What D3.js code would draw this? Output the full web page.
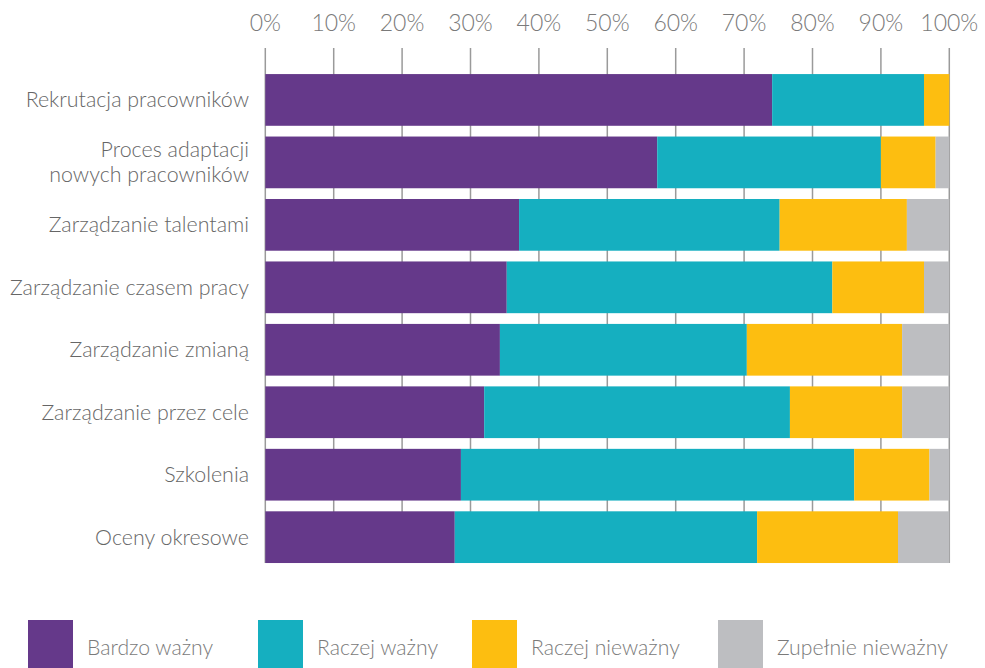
<!DOCTYPE html>
<html>
<head>
<meta charset="utf-8">
<script src="https://cdn.jsdelivr.net/npm/d3@7"></script>
<style>
  body { margin: 0; background: #fff; }
  svg { display: block; font-family: Lato, "Open Sans", sans-serif; }
</style>
</head>
<body>
<svg id="chart" width="985" height="668"></svg>
<script>
// categories (top to bottom)
let categories = [
    'Rekrutacja pracowników',
    'Proces adaptacji\nnowych pracowników',
    'Zarządzanie talentami',
    'Zarządzanie czasem pracy',
    'Zarządzanie zmianą',
    'Zarządzanie przez cele',
    'Szkolenia',
    'Oceny okresowe'
]

// series values, percent
let seriesNames = ['Bardzo ważny', 'Raczej ważny', 'Raczej nieważny', 'Zupełnie nieważny']
let bardzoWazny = [74.1, 57.3, 37.1, 35.3, 34.3, 32.0, 28.6, 27.7]
let raczejWazny = [22.2, 32.7, 38.1, 47.6, 36.1, 44.7, 57.5, 44.2]
let raczejNiewazny = [3.7, 8.0, 18.6, 13.4, 22.7, 16.4, 11.0, 20.6]
let zupelnieNiewazny = [0.0, 2.0, 6.2, 3.7, 6.9, 6.9, 2.9, 7.5]

let tickValues = [0, 10, 20, 30, 40, 50, 60, 70, 80, 90, 100]

let colors = ['#65398a', '#15afc0', '#fdbe10', '#bdbec1']

let svg = d3.select('#chart')

let rows = categories.map((c, i) => ({
    category: c,
    s0: bardzoWazny[i],
    s1: raczejWazny[i],
    s2: raczejNiewazny[i],
    s3: zupelnieNiewazny[i]
}))

let stack = d3.stack().keys(['s0', 's1', 's2', 's3'])(rows)

let xScale = d3.scaleLinear().domain([0, 100]).range([265.3, 949.3])
let yScale = d3.scaleBand()
    .domain(categories)
    .range([68.7, 568.4])
    .paddingInner(0.172)
    .paddingOuter(0.086)

// vertical grid lines
svg.append('g')
    .selectAll('line')
    .data(tickValues)
    .enter()
    .append('line')
    .attr('x1', (d) => xScale(d))
    .attr('x2', (d) => xScale(d))
    .attr('y1', 48)
    .attr('y2', 563)
    .attr('stroke', '#9a9a9a')
    .attr('stroke-width', 1.5)

// top axis labels
svg.append('g')
    .selectAll('text')
    .data(tickValues)
    .enter()
    .append('text')
    .attr('x', (d) => xScale(d))
    .attr('y', 31)
    .attr('text-anchor', 'middle')
    .attr('font-size', 23)
    .attr('font-weight', 300)
    .attr('fill', '#7a7a7a')
    .text((d) => d + '%')

// stacked bars
svg.append('g')
    .selectAll('g')
    .data(stack)
    .enter()
    .append('g')
    .attr('fill', (d, i) => colors[i])
    .selectAll('rect')
    .data((d) => d)
    .enter()
    .append('rect')
    .attr('x', (d) => xScale(d[0]))
    .attr('width', (d) => Math.max(0, xScale(d[1]) - xScale(d[0])))
    .attr('y', (d) => yScale(d.data.category))
    .attr('height', yScale.bandwidth())

// category labels
let labels = svg.append('g')
    .selectAll('text')
    .data(categories)
    .enter()
    .append('text')
    .attr('text-anchor', 'end')
    .attr('font-size', 21.4)
    .attr('font-weight', 300)
    .attr('fill', '#666')

labels.each(function (d) {
    let lines = d.split('\n')
    let cy = yScale(d) + yScale.bandwidth() / 2
    let lh = 25
    lines.forEach((line, j) => {
        d3.select(this).append('tspan')
            .attr('x', 249)
            .attr('y', cy + (j - (lines.length - 1) / 2) * lh + 7.5)
            .text(line)
    })
})

// legend
let legendX = [28, 258, 472, 718]
let legend = svg.append('g')
    .selectAll('g')
    .data(seriesNames)
    .enter()
    .append('g')
    .attr('transform', (d, i) => 'translate(' + legendX[i] + ',620)')

legend.append('rect')
    .attr('width', 45)
    .attr('height', 48)
    .attr('fill', (d, i) => colors[i])

legend.append('text')
    .attr('x', 59)
    .attr('y', 35)
    .attr('font-size', 21.2)
    .attr('font-weight', 300)
    .attr('fill', '#7a7a7a')
    .text((d) => d)
</script>
</body>
</html>
